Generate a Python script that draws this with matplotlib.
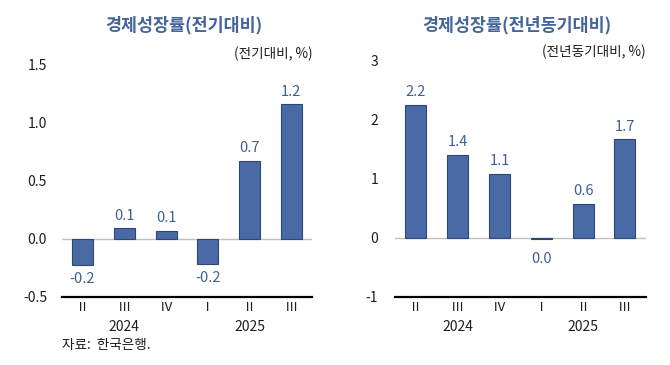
import matplotlib
matplotlib.use("Agg")
import matplotlib.pyplot as plt
import matplotlib.transforms as mtrans

plt.rcParams['font.family'] = ['Noto Sans CJK KR', 'DejaVu Sans']

quarters = ["Ⅱ", "Ⅲ", "Ⅳ", "Ⅰ", "Ⅱ", "Ⅲ"]
years = ["2024", "2025"]
year_pos = [1, 4]

qoq_values = [-0.23, 0.09, 0.07, -0.22, 0.67, 1.16]
qoq_labels = ["-0.2", "0.1", "0.1", "-0.2", "0.7", "1.2"]
yoy_values = [2.24, 1.40, 1.08, -0.03, 0.57, 1.66]
yoy_labels = ["2.2", "1.4", "1.1", "0.0", "0.6", "1.7"]

title_left = "경제성장률(전기대비)"
title_right = "경제성장률(전년동기대비)"
unit_left = "(전기대비, %)"
unit_right = "(전년동기대비, %)"
source = "자료:  한국은행."

bar_color = "#4a6aa6"
edge_color = "#2e4676"
label_color = "#3f5f94"
title_color = "#44649a"
text_color = "#1e1e1e"

fig = plt.figure(figsize=(6.7, 3.65), dpi=100)

ax1 = fig.add_axes([0.0921, 0.1871, 0.374, 0.6356])
ax2 = fig.add_axes([0.5896, 0.1871, 0.3742, 0.6485])


def draw(ax, values, labels, ylim, yticks, yticklabels, title, unit, title_y, unit_y, pad):
    x = list(range(len(values)))
    ax.bar(x, values, width=0.5, color=bar_color, edgecolor=edge_color, linewidth=0.8, zorder=3)
    ax.set_xlim(-0.5, len(values) - 0.5)
    ax.set_ylim(*ylim)
    ax.axhline(0, color="#c0c0c0", linewidth=1.0, zorder=2)
    for s in ["top", "right", "left"]:
        ax.spines[s].set_visible(False)
    ax.spines["bottom"].set_linewidth(1.6)
    ax.spines["bottom"].set_color("black")
    ax.set_yticks(yticks)
    ax.set_yticklabels(yticklabels, fontsize=10, color=text_color)
    ax.tick_params(axis="y", length=0, pad=pad)
    ax.set_xticks(x)
    ax.set_xticklabels(quarters, fontsize=9.5, color=text_color)
    ax.tick_params(axis="x", length=0, pad=3)
    for xi, v, lab in zip(x, values, labels):
        if v >= 0:
            ax.annotate(lab, (xi, v), xytext=(0, 4), textcoords="offset points",
                        ha="center", va="bottom", fontsize=10.5, color=label_color)
        else:
            off = -5 if abs(v) > 0.1 else -9
            ax.annotate(lab, (xi, v), xytext=(0, off), textcoords="offset points",
                        ha="center", va="top", fontsize=10.5, color=label_color)
    tr = mtrans.blended_transform_factory(ax.transData, ax.transAxes)
    for yp, yl in zip(year_pos, years):
        ax.text(yp, -0.13, yl, transform=tr, ha="center", va="center", fontsize=10, color=text_color)
    bb = ax.get_position()
    fig.text((bb.x0 + bb.x1) / 2 - 0.005, title_y, title, ha="center", va="center",
             fontsize=12.5, fontweight="bold", color=title_color)
    fig.text(bb.x1, unit_y, unit, ha="right", va="center", fontsize=9.8, color=text_color)


draw(ax1, qoq_values, qoq_labels, (-0.5, 1.5), [-0.5, 0.0, 0.5, 1.0, 1.5],
     ["-0.5", "0.0", "0.5", "1.0", "1.5"], title_left, unit_left, 1 - 25 / 365, 1 - 54 / 365, 10.5)
draw(ax2, yoy_values, yoy_labels, (-1, 3), [-1, 0, 1, 2, 3],
     ["-1", "0", "1", "2", "3"], title_right, unit_right, 1 - 25 / 365, 1 - 52 / 365, 12)

fig.text(62 / 670, 1 - 345 / 365, source, ha="left", va="center", fontsize=9.8, color=text_color)

fig.savefig("out.png", dpi=100)
